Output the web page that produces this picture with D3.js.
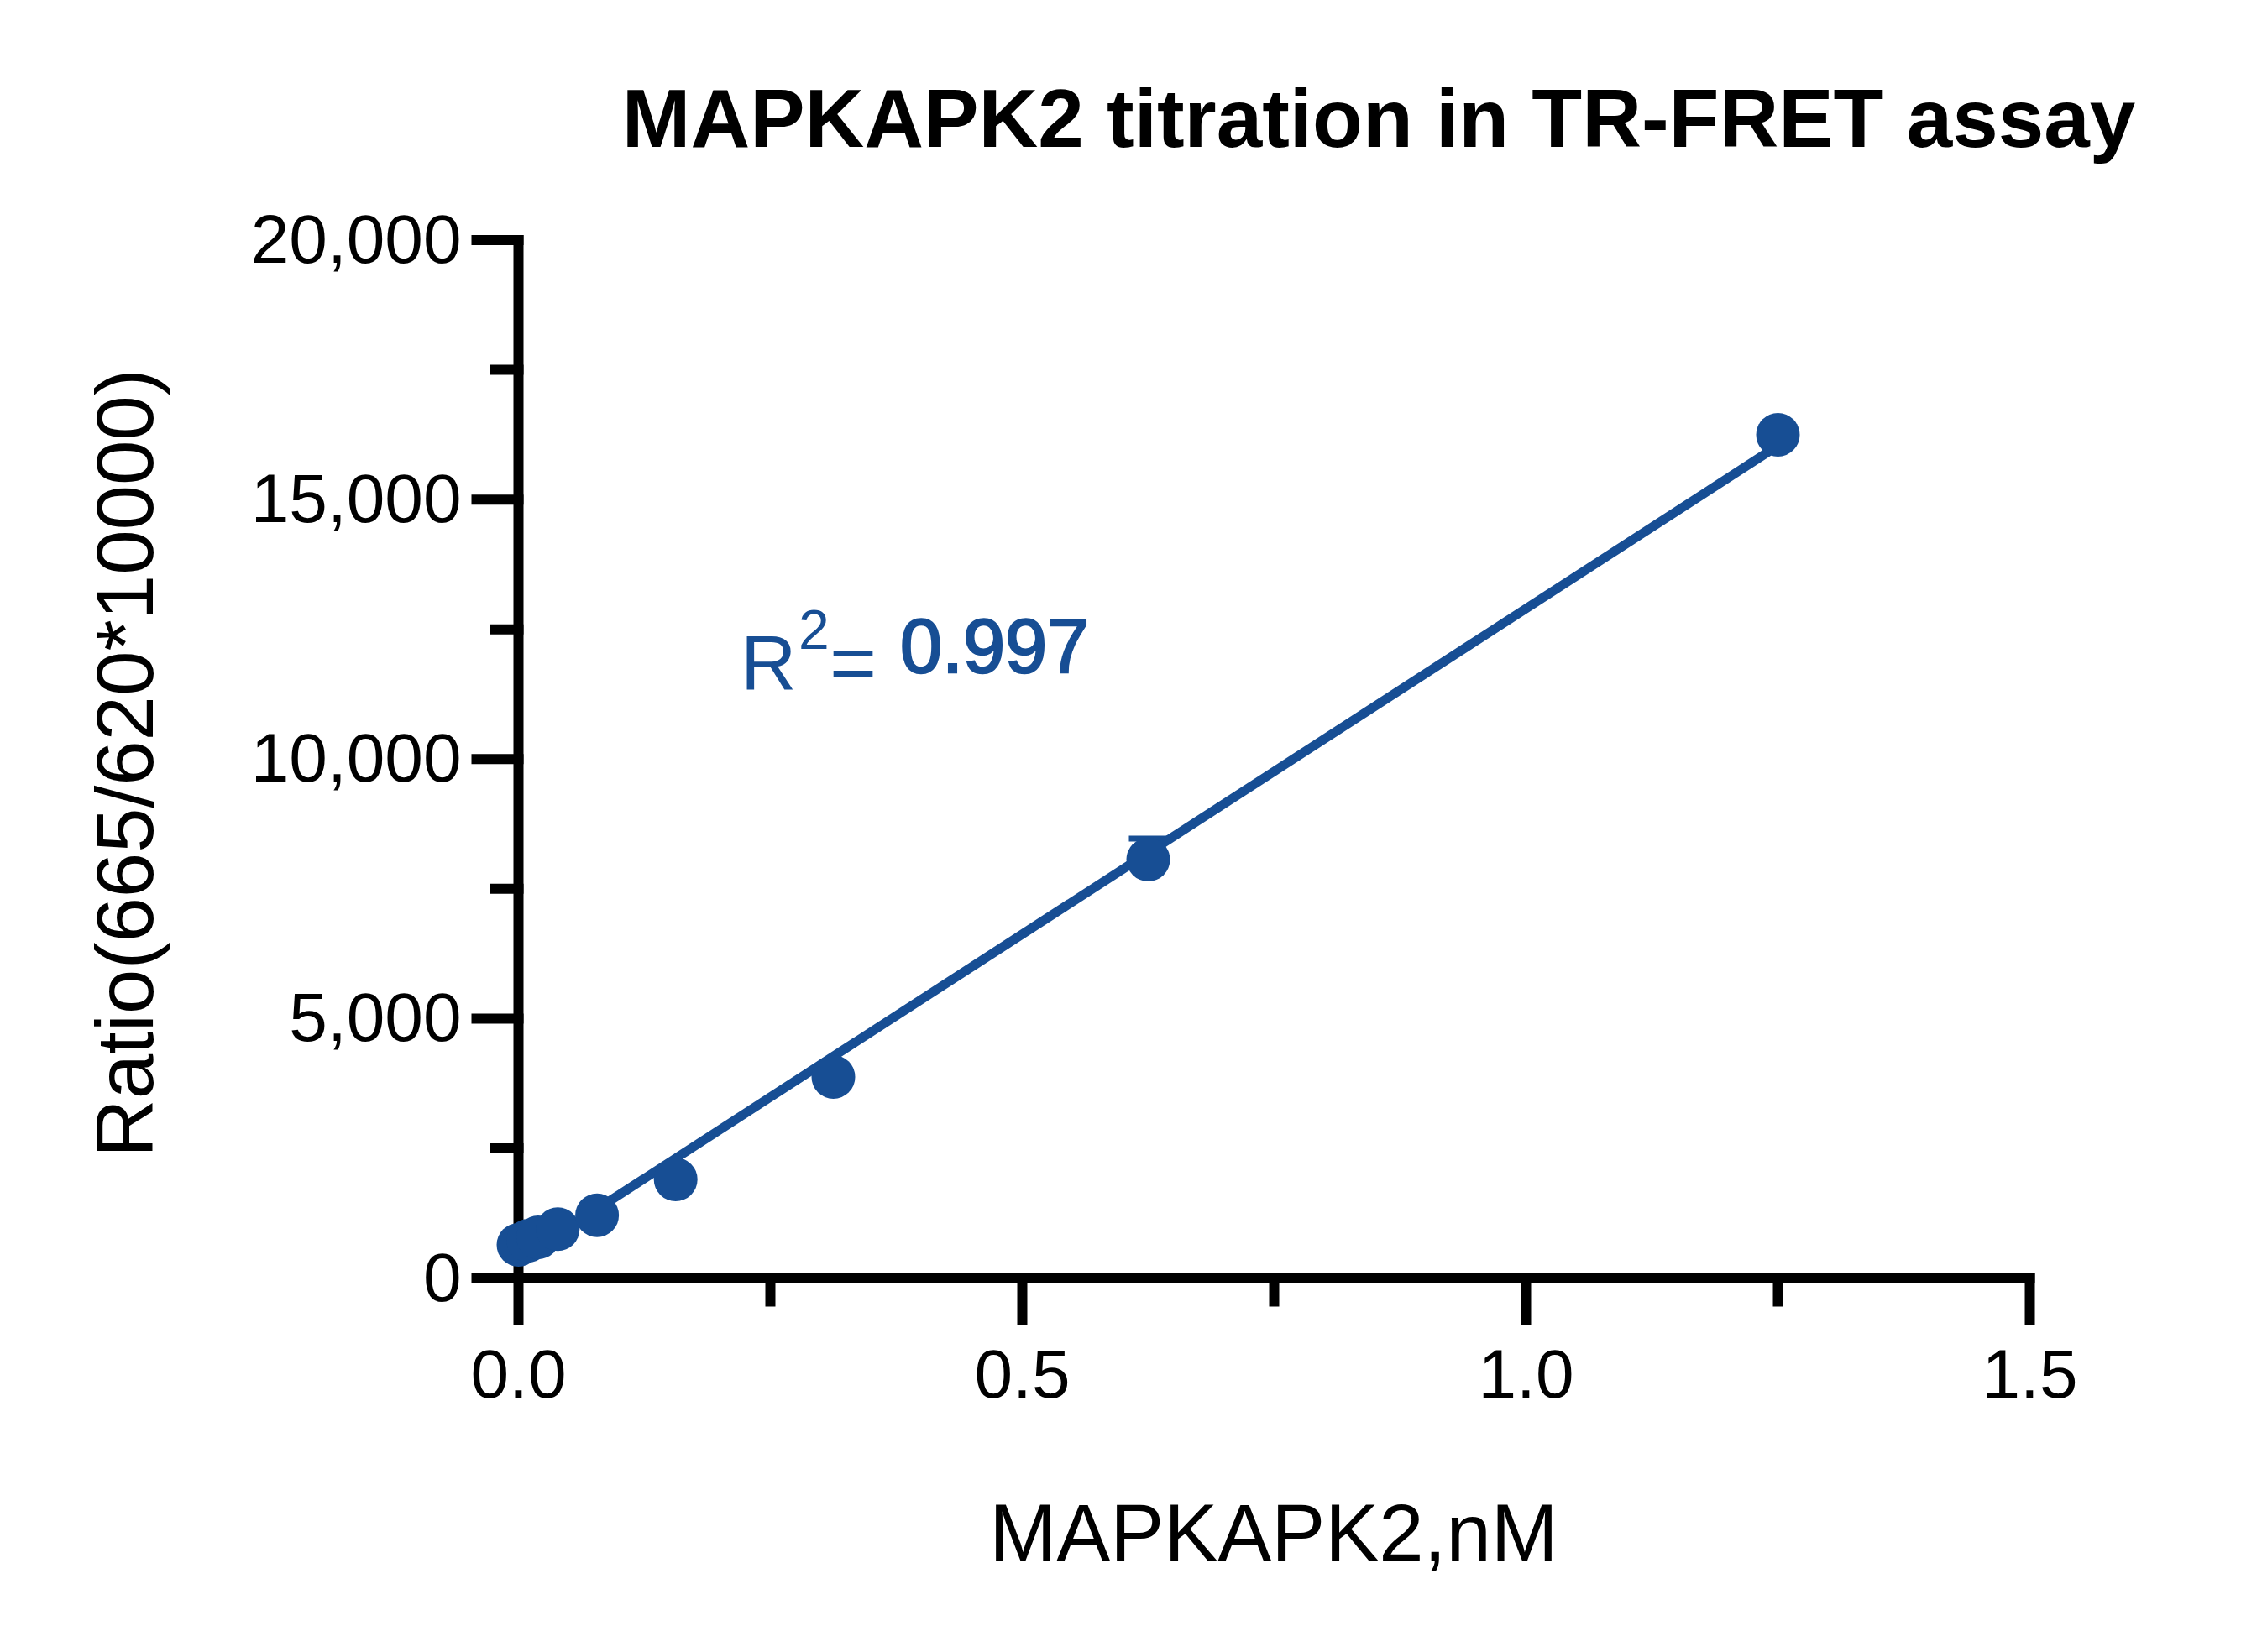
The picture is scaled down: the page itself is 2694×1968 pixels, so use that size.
<!DOCTYPE html>
<html>
<head>
<meta charset="utf-8">
<script src="https://cdn.jsdelivr.net/npm/d3@7"></script>
<style>
  html, body { margin: 0; padding: 0; background: #fff; }
  svg { display: block; }
  text { font-family: "Liberation Sans", Arial, Helvetica, sans-serif; }
</style>
</head>
<body>
<script>
// ---- data ----
const concentrations = [0, 0.0098, 0.0195, 0.039, 0.078, 0.156, 0.3125, 0.625, 1.25]; // nM
const ratios = [640, 720, 784, 941, 1210, 1900, 3874, 8063, 16248];
const errorsSD = [30, 30, 40, 50, 60, 90, 120, 404, 150];
const fitSlope = 12550;     // linear fit
const fitIntercept = 350;
const rSquared = "0.997";
const xTickValues = [0, 0.5, 1.0, 1.5];
const xTickLabels = ["0.0", "0.5", "1.0", "1.5"];
const xMinorTicks = [0.25, 0.75, 1.25];
const yTickValues = [0, 5000, 10000, 15000, 20000];
const yTickLabels = ["0", "5,000", "10,000", "15,000", "20,000"];
const yMinorTicks = [2500, 7500, 12500, 17500];
const titleText = "MAPKAPK2 titration in TR-FRET assay";
const xTitle = "MAPKAPK2,nM";
const yTitle = "Ratio(665/620*10000)";

// ---- layout ----
const W = 2694, H = 1968;
const blue = "#174E94";
const axisW = 12, majorLen = 50, minorLen = 28;

const svg = d3.select("body").append("svg").attr("width", W).attr("height", H);

const x = d3.scaleLinear().domain([0, 1.5]).range([617.5, 2417.5]);
const y = d3.scaleLinear().domain([0, 20000]).range([1522.5, 286]);

const g = svg.append("g");

// axes lines
g.append("line").attr("x1", x(0)).attr("x2", x(0)).attr("y1", y(20000)).attr("y2", y(0))
  .attr("stroke", "#000").attr("stroke-width", axisW).attr("stroke-linecap", "square");
g.append("line").attr("x1", x(0)).attr("x2", x(1.5)).attr("y1", y(0)).attr("y2", y(0))
  .attr("stroke", "#000").attr("stroke-width", axisW).attr("stroke-linecap", "square");

// y ticks
g.selectAll(".ytick").data(yTickValues).join("line")
  .attr("x1", x(0) - majorLen).attr("x2", x(0)).attr("y1", d => y(d)).attr("y2", d => y(d))
  .attr("stroke", "#000").attr("stroke-width", axisW).attr("stroke-linecap", "square");
g.selectAll(".yminor").data(yMinorTicks).join("line")
  .attr("x1", x(0) - minorLen).attr("x2", x(0)).attr("y1", d => y(d)).attr("y2", d => y(d))
  .attr("stroke", "#000").attr("stroke-width", axisW).attr("stroke-linecap", "square");
g.selectAll(".ylab").data(yTickValues).join("text")
  .attr("x", x(0) - majorLen - 18).attr("y", d => y(d) + 27)
  .attr("text-anchor", "end").attr("font-size", 82).attr("fill", "#000")
  .text((d, i) => yTickLabels[i]);

// x ticks
g.selectAll(".xtick").data(xTickValues).join("line")
  .attr("x1", d => x(d)).attr("x2", d => x(d)).attr("y1", y(0)).attr("y2", y(0) + majorLen)
  .attr("stroke", "#000").attr("stroke-width", axisW).attr("stroke-linecap", "square");
g.selectAll(".xminor").data(xMinorTicks).join("line")
  .attr("x1", d => x(d)).attr("x2", d => x(d)).attr("y1", y(0)).attr("y2", y(0) + minorLen)
  .attr("stroke", "#000").attr("stroke-width", axisW).attr("stroke-linecap", "square");
g.selectAll(".xlab").data(xTickValues).join("text")
  .attr("x", d => x(d)).attr("y", 1665)
  .attr("text-anchor", "middle").attr("font-size", 82).attr("fill", "#000")
  .text((d, i) => xTickLabels[i]);

// titles
svg.append("text").attr("x", 1642).attr("y", 175).attr("text-anchor", "middle")
  .attr("font-size", 98).attr("font-weight", "bold").attr("fill", "#000").text(titleText);
svg.append("text").attr("x", 1517).attr("y", 1859).attr("text-anchor", "middle")
  .attr("font-size", 96).attr("fill", "#000").text(xTitle);
svg.append("text").attr("transform", "translate(182,909) rotate(-90)").attr("text-anchor", "middle")
  .attr("font-size", 96).attr("fill", "#000").text(yTitle);

// error bars (upper only)
const pts = concentrations.map((c, i) => ({ c, v: ratios[i], e: errorsSD[i] }));
const eb = svg.append("g");
eb.selectAll("line.v").data(pts).join("line")
  .attr("x1", d => x(d.c)).attr("x2", d => x(d.c)).attr("y1", d => y(d.v)).attr("y2", d => y(d.v + d.e))
  .attr("stroke", blue).attr("stroke-width", 7);
eb.selectAll("line.cap").data(pts).join("line")
  .attr("x1", d => x(d.c) - 23).attr("x2", d => x(d.c) + 23).attr("y1", d => y(d.v + d.e)).attr("y2", d => y(d.v + d.e))
  .attr("stroke", blue).attr("stroke-width", 7);

// fit line
const xmin = d3.min(concentrations), xmax = d3.max(concentrations);
svg.append("line")
  .attr("x1", x(xmin)).attr("y1", y(fitIntercept + fitSlope * xmin))
  .attr("x2", x(xmax)).attr("y2", y(fitIntercept + fitSlope * xmax))
  .attr("stroke", blue).attr("stroke-width", 11).attr("stroke-linecap", "round");

// points
svg.append("g").selectAll("circle").data(pts).join("circle")
  .attr("cx", d => x(d.c)).attr("cy", d => y(d.v)).attr("r", 26).attr("fill", blue);

// R² annotation
const ann = svg.append("g").attr("fill", blue);
ann.append("text").attr("x", 882).attr("y", 822).attr("font-size", 92).text("R");
ann.append("text").attr("x", 951).attr("y", 773).attr("font-size", 66).text("2");
ann.append("text").attr("x", 988).attr("y", 822).attr("font-size", 96).text("=");
ann.append("text").attr("x", 1072).attr("y", 801).attr("font-size", 90)
  .attr("stroke", blue).attr("stroke-width", 2.5).text(rSquared);
</script>
</body>
</html>
